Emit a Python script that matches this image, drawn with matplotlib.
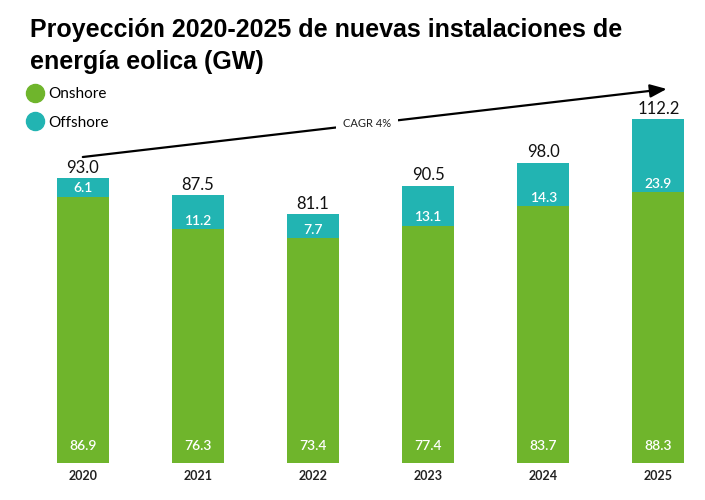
import matplotlib
matplotlib.use("Agg")
import matplotlib.pyplot as plt
from matplotlib.lines import Line2D

years = ["2020", "2021", "2022", "2023", "2024", "2025"]
onshore = [86.9, 76.3, 73.4, 77.4, 83.7, 88.3]
offshore = [6.1, 11.2, 7.7, 13.1, 14.3, 23.9]
totals = [93.0, 87.5, 81.1, 90.5, 98.0, 112.2]
cagr_label = "CAGR 4%"

green = "#6fb52c"
teal = "#22b4b2"
font = "Lato"

fig = plt.figure(figsize=(7.05, 5.0), dpi=100)
W, H = 705, 500
left_px, right_px = 20, 700
top_px, bottom_px = 60, 463
ax = fig.add_axes([left_px / W, (H - bottom_px) / H, (right_px - left_px) / W, (bottom_px - top_px) / H])

x = list(range(len(years)))
ax.bar(x, onshore, width=0.45, color=green, edgecolor="none")
ax.bar(x, offshore, width=0.45, bottom=onshore, color=teal, edgecolor="none")

ax.set_xlim((left_px - 82.8) / 115.1, (right_px - 82.8) / 115.1)
ax.set_ylim(0, (bottom_px - top_px) / 3.066)

for i in x:
    ax.annotate(f"{totals[i]:.1f}", (i, totals[i]), xytext=(0, 1.5), textcoords="offset points",
                ha="center", va="bottom", fontsize=12, color="#111111", family=font)
    ax.annotate(f"{offshore[i]:.1f}", (i, onshore[i]), xytext=(0, 6), textcoords="offset points",
                ha="center", va="center", fontsize=10, color="white", family=font, fontweight="semibold")
    ax.annotate(f"{onshore[i]:.1f}", (i, 0), xytext=(0, 12), textcoords="offset points",
                ha="center", va="center", fontsize=10, color="white", family=font, fontweight="semibold")

ax.set_xticks(x)
ax.set_xticklabels(years, fontsize=9, family=font, fontweight="bold", color="#222222")
ax.tick_params(axis="x", length=0, pad=5)
ax.set_yticks([])
for s in ax.spines.values():
    s.set_visible(False)

# CAGR arrow
ax.annotate("", xy=(5.073, 122.0), xytext=(0.0, 99.8),
            arrowprops=dict(arrowstyle="-|>,head_length=1.0,head_width=0.4", color="black", lw=1.6,
                            shrinkA=0, shrinkB=0))
ax.text(2.467, 110.8, cagr_label, ha="center", va="center", fontsize=8, family=font,
        color="#222222", bbox=dict(facecolor="white", edgecolor="none", pad=5))

fig.text(30 / W, 1 - 30 / H, "Proyección 2020-2025 de nuevas instalaciones de",
         fontsize=18, fontweight="bold", family="Liberation Sans", va="center", ha="left")
fig.text(30 / W, 1 - 62 / H, "energía eolica (GW)",
         fontsize=18, fontweight="bold", family="Liberation Sans", va="center", ha="left")

handles = [Line2D([], [], marker="o", ls="", color=green, markersize=13),
           Line2D([], [], marker="o", ls="", color=teal, markersize=13)]
fig.legend(handles, ["Onshore", "Offshore"], loc="upper left", bbox_to_anchor=(27 / W, 1 - 87 / H),
           frameon=False, prop={"family": font, "size": 11}, handletextpad=0.4,
           labelspacing=0.95, handlelength=1.0, borderpad=0, borderaxespad=0)

fig.savefig("out.png", dpi=100)
